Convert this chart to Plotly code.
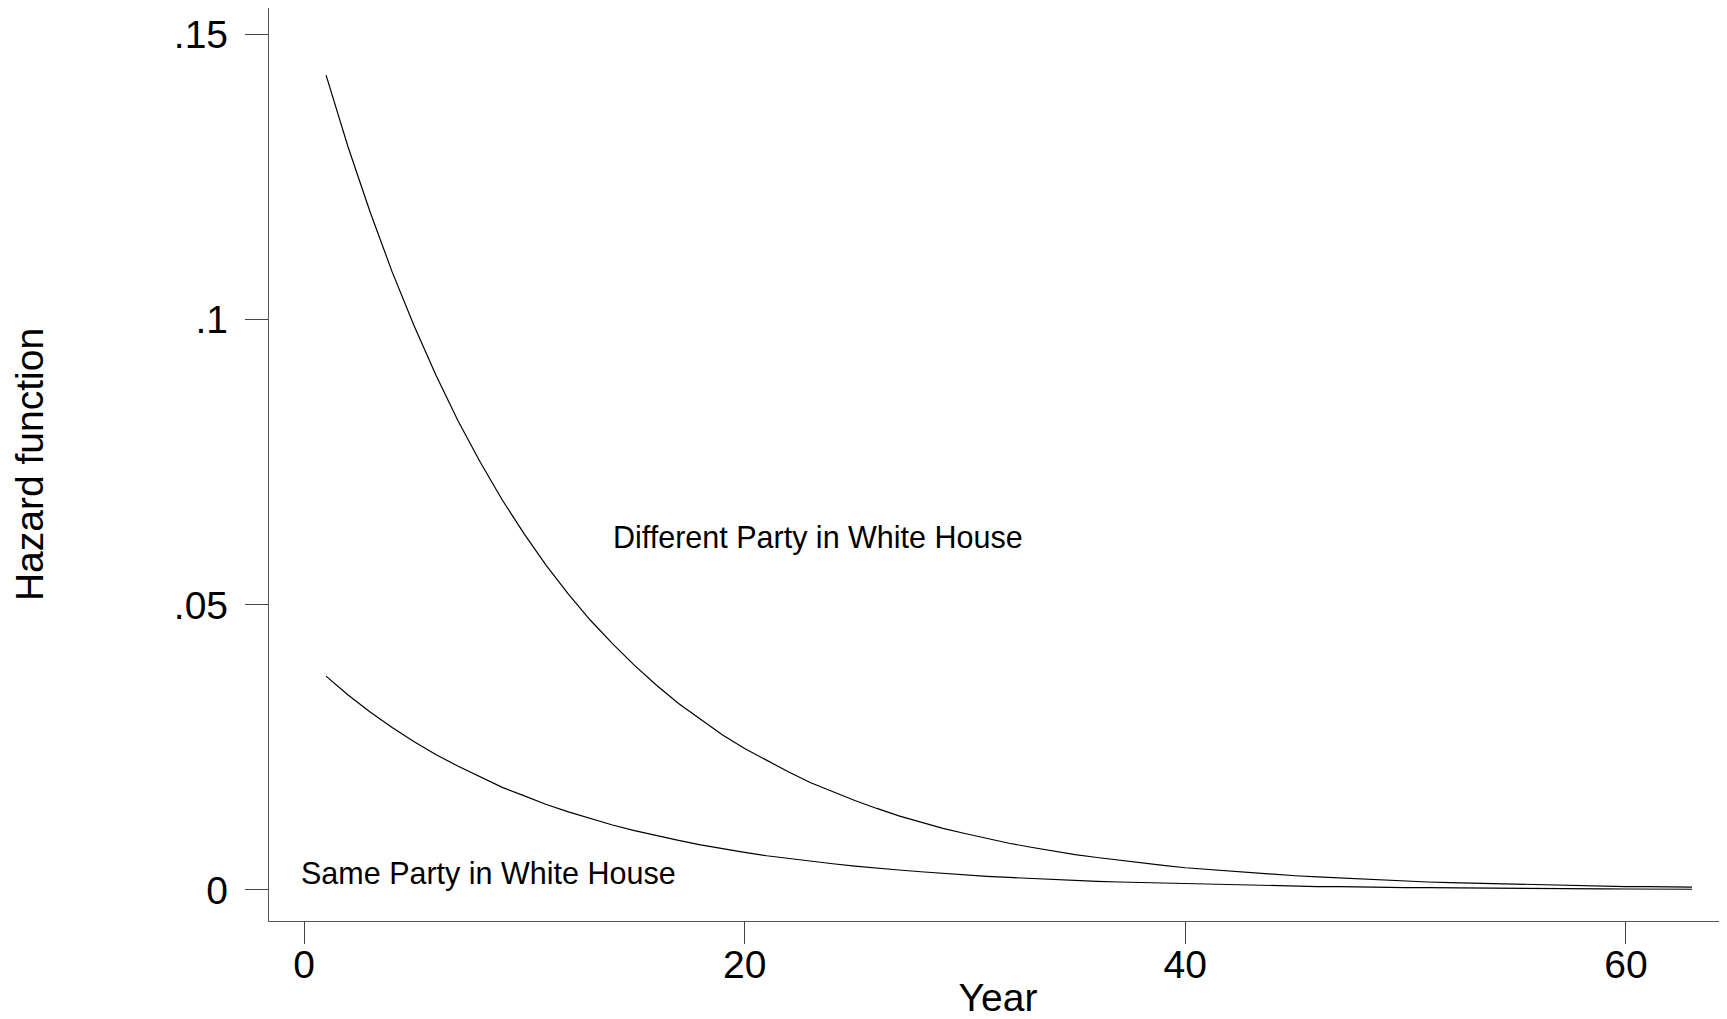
import plotly.graph_objects as go

years = list(range(1, 64))

different_party = [
    0.1429, 0.1303, 0.1189, 0.1084, 0.0989, 0.0902, 0.0822, 0.0750, 0.0684, 0.0624,
    0.0569, 0.0519, 0.0473, 0.0432, 0.0394, 0.0359, 0.0327, 0.0299, 0.0272, 0.0248,
    0.0227, 0.0207, 0.0188, 0.0172, 0.0157, 0.0143, 0.0130, 0.0119, 0.0108, 0.0099,
    0.0090, 0.0082, 0.0075, 0.0068, 0.0062, 0.0057, 0.0052, 0.0047, 0.0043, 0.0039,
    0.0036, 0.0033, 0.0030, 0.0027, 0.0025, 0.0023, 0.0021, 0.0019, 0.0017, 0.0016,
    0.0014, 0.0013, 0.0012, 0.0011, 0.0010, 0.0009, 0.0008, 0.0008, 0.0007, 0.0006,
    0.0006, 0.0005, 0.0005,
]

same_party = [
    0.0375, 0.0342, 0.0312, 0.0285, 0.0260, 0.0237, 0.0217, 0.0198, 0.0180, 0.0165,
    0.0150, 0.0137, 0.0125, 0.0114, 0.0104, 0.0095, 0.0087, 0.0079, 0.0072, 0.0066,
    0.0060, 0.0055, 0.0050, 0.0046, 0.0042, 0.0038, 0.0035, 0.0032, 0.0029, 0.0026,
    0.0024, 0.0022, 0.0020, 0.0018, 0.0017, 0.0015, 0.0014, 0.0013, 0.0012, 0.0011,
    0.0010, 0.0009, 0.0008, 0.0007, 0.0007, 0.0006, 0.0006, 0.0005, 0.0005, 0.00042,
    0.00040, 0.00036, 0.00033, 0.00030, 0.00028, 0.00025, 0.00023, 0.00021, 0.00019, 0.00017,
    0.00016, 0.00015, 0.00013,
]

x_ticks = [0, 20, 40, 60]
x_tick_labels = ["0", "20", "40", "60"]
y_ticks = [0, 0.05, 0.1, 0.15]
y_tick_labels = ["0", ".05", ".1", ".15"]

label_different = "Different Party in White House"
label_same = "Same Party in White House"

fig = go.Figure()
fig.add_trace(go.Scatter(x=years, y=different_party, mode="lines",
                         line=dict(color="black", width=1.2), name=label_different,
                         showlegend=False))
fig.add_trace(go.Scatter(x=years, y=same_party, mode="lines",
                         line=dict(color="black", width=1.2), name=label_same,
                         showlegend=False))

sans = "Liberation Sans, Arial, sans-serif"
fig.add_annotation(x=13.92, y=0.0618, text=label_different, showarrow=False,
                   xanchor="left", yanchor="middle",
                   font=dict(family=sans, size=30.5, color="black"))
fig.add_annotation(x=-0.21, y=0.0029, text=label_same, showarrow=False,
                   xanchor="left", yanchor="middle",
                   font=dict(family=sans, size=30.5, color="black"))

axis_common = dict(
    showgrid=False, zeroline=False, showline=True, linecolor="#555555", linewidth=1.3,
    ticks="outside", tickcolor="#444444", tickwidth=1.3,
    tickfont=dict(family=sans, size=39, color="black"),
)

# The page body has an 8px margin; the figure is sized so that it fills the window.
fig.update_layout(
    width=1719, height=1011,
    paper_bgcolor="white", plot_bgcolor="white",
    margin=dict(l=261, r=0, t=0, b=98, autoexpand=False),
    xaxis=dict(range=[-1.59, 64.59], tickvals=x_ticks, ticktext=x_tick_labels,
               ticklen=22, ticklabelstandoff=-13,
               title=dict(text="Year", standoff=3,
                          font=dict(family=sans, size=39, color="black")),
               **axis_common),
    yaxis=dict(range=[-0.00544, 0.15468], tickvals=y_ticks, ticktext=y_tick_labels,
               ticklen=23, ticklabelstandoff=9,
               title=dict(text="Hazard function", standoff=125,
                          font=dict(family=sans, size=39, color="black")),
               **axis_common),
)

fig.write_html("out.html")
